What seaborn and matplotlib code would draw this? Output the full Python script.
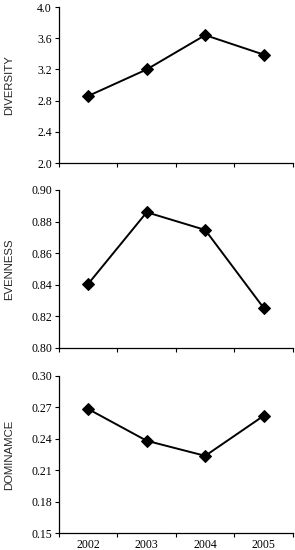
import matplotlib
matplotlib.use("Agg")
import matplotlib.pyplot as plt
import seaborn as sns
import pandas as pd

years = ["2002", "2003", "2004", "2005"]
diversity = [2.86, 3.20, 3.64, 3.39]
evenness = [0.8406, 0.8859, 0.8747, 0.8253]
dominance = [0.2684, 0.2381, 0.2237, 0.2620]

panels = [
    ("DIVERSITY", diversity, (2.0, 4.0), [2.0, 2.4, 2.8, 3.2, 3.6, 4.0], "{:.1f}"),
    ("EVENNESS", evenness, (0.80, 0.90), [0.80, 0.82, 0.84, 0.86, 0.88, 0.90], "{:.2f}"),
    ("DOMINAMCE", dominance, (0.15, 0.30), [0.15, 0.18, 0.21, 0.24, 0.27, 0.30], "{:.2f}"),
]

sns.set_theme(style="white")
plt.rcParams["font.family"] = ["Liberation Serif", "DejaVu Serif"]

fig = plt.figure(figsize=(2.95, 5.5), dpi=100)
# axes rectangles in figure fractions (left, bottom, width, height)
rects = [
    (0.200, 0.7036, 0.793, 0.2836),
    (0.200, 0.3673, 0.793, 0.2873),
    (0.200, 0.0309, 0.793, 0.2855),
]

for i, ((label, vals, ylim, yticks, fmt), rect) in enumerate(zip(panels, rects)):
    ax = fig.add_axes(rect)
    df = pd.DataFrame({"x": range(len(years)), "y": vals})
    sns.lineplot(data=df, x="x", y="y", ax=ax, color="black", linewidth=1.4,
                 marker="D", markersize=6.5, markeredgecolor="black")
    ax.set_xlim(-0.5, len(years) - 0.5)
    ax.set_ylim(*ylim)
    ax.set_yticks(yticks)
    ax.set_yticklabels([fmt.format(t) for t in yticks])
    ax.set_xticks(range(len(years)))
    ax.set_xticks([k + 0.5 for k in range(-1, len(years))], minor=True)
    if i == len(panels) - 1:
        ax.set_xticklabels(years)
    else:
        ax.set_xticklabels([])
    ax.tick_params(axis="x", which="major", length=0, labelsize=8.5, pad=4, colors="black")
    ax.tick_params(axis="x", which="minor", length=3, width=0.8, direction="out", bottom=True, color="black")
    ax.tick_params(axis="y", length=3, width=0.8, direction="out", left=True, labelsize=8.5, pad=2, colors="black")
    for s in ["top", "right"]:
        ax.spines[s].set_visible(False)
    for s in ["left", "bottom"]:
        ax.spines[s].set_color("black")
        ax.spines[s].set_linewidth(0.9)
    ax.set_xlabel("")
    ax.set_ylabel(label, fontsize=8.2, family=["Liberation Sans", "DejaVu Sans"])
    ax.yaxis.set_label_coords(-0.19, 0.5)
    ax.grid(False)

fig.savefig("out.png", dpi=100)
